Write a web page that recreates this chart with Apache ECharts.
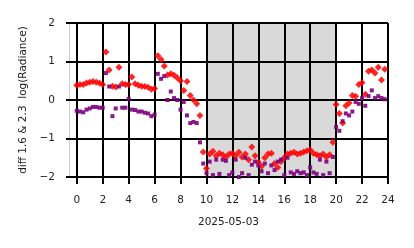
<!DOCTYPE html>
<html><head><meta charset="utf-8">
<script src="https://cdn.jsdelivr.net/npm/echarts@6/dist/echarts.min.js"></script>
<style>html,body{margin:0;padding:0;background:#fff}#c{width:414px;height:248px}</style>
</head><body><div id="c"></div>
<script>
const hours = [0,0.25,0.5,0.75,1,1.25,1.5,1.75,2,2.25,2.5,2.75,3,3.25,3.5,3.75,4,4.25,4.5,4.75,5,5.25,5.5,5.75,
  6,6.25,6.5,6.75,7,7.25,7.5,7.75,8,8.25,8.5,8.75,9,9.25,9.5,9.75,10,10.25,10.5,10.75,11,11.25,11.5,11.75,
  12,12.25,12.5,12.75,13,13.25,13.5,13.75,14,14.25,14.5,14.75,15,15.25,15.5,15.75,16,16.25,16.5,16.75,17,17.25,17.5,17.75,
  18,18.25,18.5,18.75,19,19.25,19.5,19.75,20,20.25,20.5,20.75,21,21.25,21.5,21.75,22,22.25,22.5,22.75,23,23.25,23.5,23.75];
const diff16 = [0.38,0.40,0.40,0.44,0.46,0.48,0.46,0.44,0.40,1.25,0.78,0.36,0.34,0.85,0.42,0.40,0.40,0.60,0.42,0.38,0.36,0.35,0.33,0.28,
  0.30,1.15,1.05,0.88,0.65,0.68,0.64,0.58,0.50,0.25,0.48,0.12,0.00,-0.10,-0.40,-1.35,-1.78,-1.40,-1.33,-1.45,-1.38,-1.42,-1.48,-1.40,
  -1.38,-1.45,-1.36,-1.48,-1.40,-1.55,-1.22,-1.45,-1.62,-1.72,-1.50,-1.40,-1.38,-1.65,-1.75,-1.60,-1.50,-1.40,-1.38,-1.36,-1.40,-1.38,-1.35,-1.32,
  -1.30,-1.38,-1.42,-1.45,-1.40,-1.48,-1.42,-1.10,-0.12,-0.35,-0.60,-0.15,-0.08,0.12,0.10,0.40,0.45,0.15,0.75,0.78,0.70,0.85,0.52,0.80];
const diff23 = [-0.28,-0.30,-0.32,-0.25,-0.22,-0.18,-0.18,-0.20,-0.20,0.70,0.35,-0.42,-0.22,0.35,-0.20,-0.20,0.03,-0.25,-0.26,-0.30,-0.30,-0.33,-0.35,-0.42,
  -0.38,0.68,0.55,0.62,0.00,0.22,0.05,0.00,-0.25,-0.05,-0.40,-0.60,-0.57,-0.60,-1.10,-1.65,-1.90,-1.60,-1.95,-1.55,-1.92,-1.55,-1.58,-1.95,
  -1.88,-1.55,-2.00,-1.90,-1.50,-1.95,-1.68,-1.60,-1.70,-1.85,-1.65,-1.90,-1.70,-1.82,-1.60,-1.55,-1.95,-1.50,-1.88,-1.92,-1.85,-1.90,-1.88,-1.95,
  -1.75,-1.88,-1.92,-1.55,-1.95,-1.60,-1.90,-1.48,-0.70,-0.80,-0.55,-0.35,-0.40,-0.30,-0.05,-0.10,0.05,-0.15,0.10,0.25,0.05,0.10,0.05,0.02];
const xTicks = [0,2,4,6,8,10,12,14,16,18,20,22,24];
const yTicks = [-2,-1,0,1,2];
const shade = [10, 20];
const xName = '2025-05-03';
const yName = 'diff 1.6 & 2.3  log(Radiance)';

const font = 'DejaVu Sans';
const chart = echarts.init(document.getElementById('c'));
chart.setOption({
  animation: false,
  grid: {left: 69, right: 26, top: 23, bottom: 71},
  graphic: [{
    type: 'text', x: 23, y: 100, rotation: Math.PI / 2, silent: true,
    style: {text: yName, textAlign: 'center', textVerticalAlign: 'middle',
      fontFamily: font, fontSize: 10.5, fill: '#222'}
  }],
  xAxis: {
    type: 'value', min: -0.6, max: 24,
    name: xName, nameLocation: 'middle', nameGap: 40,
    nameTextStyle: {fontFamily: font, fontSize: 10.5, color: '#222'},
    axisLine: {show: true, onZero: false, lineStyle: {color: '#000', width: 2}},
    axisTick: {show: true, customValues: xTicks, length: 7, lineStyle: {color: '#000', width: 2}},
    axisLabel: {customValues: xTicks, margin: 18, fontFamily: font, fontSize: 10.5, color: '#222'},
    splitLine: {show: false}
  },
  yAxis: {
    type: 'value', min: -2, max: 2, interval: 1,
    axisLine: {show: true, onZero: false, lineStyle: {color: '#cccccc', width: 1}},
    axisTick: {show: true, length: 3, lineStyle: {color: '#000', width: 2}},
    axisLabel: {margin: 14, fontFamily: font, fontSize: 10.5, color: '#222',
      formatter: v => (v < 0 ? '\u2212' + Math.abs(v) : String(v))},
    splitLine: {show: false}
  },
  series: [
    {
      type: 'scatter', data: [], silent: true, z: 1,
      markArea: {silent: true, itemStyle: {color: '#d9d9d9'},
        data: [[{xAxis: shade[0]}, {xAxis: shade[1]}]]}
    },
    {
      type: 'scatter', data: [], silent: true, z: 2,
      markLine: {silent: true, symbol: 'none', label: {show: false},
        lineStyle: {color: '#000', width: 2, type: 'solid'},
        data: xTicks.map(t => ({xAxis: t})).concat(yTicks.map(t => ({yAxis: t})))}
    },
    {
      type: 'scatter', name: '1.6', z: 6,
      symbol: 'diamond', symbolSize: 7,
      itemStyle: {color: '#ff0000', opacity: 0.85},
      data: hours.map((h, i) => [h, diff16[i]])
    },
    {
      type: 'scatter', name: '2.3', z: 7,
      symbol: 'rect', symbolSize: 4,
      itemStyle: {color: '#800080', opacity: 0.9},
      data: hours.map((h, i) => [h, diff23[i]])
    }
  ]
});
</script></body></html>
